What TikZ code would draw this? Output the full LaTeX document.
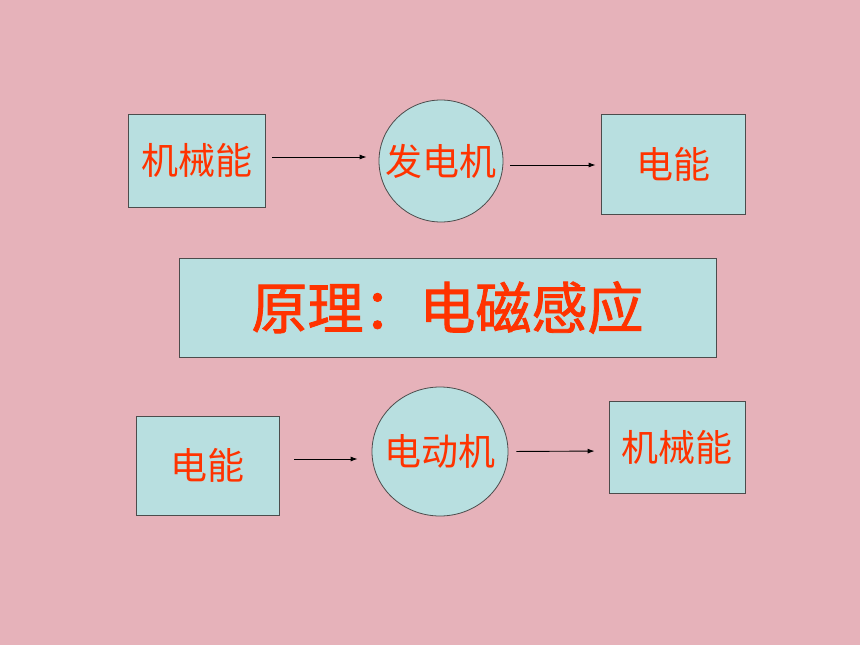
\documentclass[tikz,border=0pt]{standalone}
\usepackage{fontspec}
\newfontfamily\cjk{Noto Sans CJK SC}
\newfontfamily\cjktitle[FakeBold=1.5]{Noto Sans CJK SC}
\usetikzlibrary{shapes.geometric, arrows.meta}
\definecolor{bgpink}{RGB}{230,178,186}
\definecolor{boxcyan}{RGB}{184,223,224}
\definecolor{txtred}{RGB}{255,51,0}
\tikzset{
  cjktext/.style={text=txtred, font=\cjk\fontsize{37}{37}\selectfont},
  energybox/.style={rectangle, draw=black!70, line width=0.8pt, fill=boxcyan,
    inner sep=0pt, cjktext},
  machine/.style={energybox, ellipse, label={[cjktext]center:#1}},
  flow/.style={-{Latex[length=7pt, width=5pt]}, line width=0.9pt}
}
\begin{document}
\begin{tikzpicture}[x=1pt, y=-1pt]
  \fill[bgpink] (0,0) rectangle (860,645);
  \useasboundingbox (0,0) rectangle (860,645);
  % generator
  \node[energybox, minimum width=137pt, minimum height=93pt] (mech1) at (196.5,160.5) {机械能};
  \node[machine=发电机, minimum width=124pt, minimum height=122pt] (gen) at (441,161) {};
  \node[energybox, minimum width=144pt, minimum height=100pt] (elec1) at (673,164) {电能};
  % principle
  \node[energybox, minimum width=537pt, minimum height=99pt,
    font=\cjktitle\fontsize{56}{56}\selectfont] (rule) at (447.5,307.5) {原理：电磁感应};
  % motor
  \node[energybox, minimum width=143pt, minimum height=99pt] (elec2) at (207.5,465.5) {电能};
  \node[machine=电动机, minimum width=136pt, minimum height=129pt] (mot) at (440,451.5) {};
  \node[energybox, minimum width=136pt, minimum height=92pt] (mech2) at (677,447) {机械能};
  \begin{scope}[flow]
    \draw[shorten <=7pt, shorten >=12pt] ([yshift=3.5pt]mech1.east) -- ([yshift=4pt]gen.west);
    \draw[shorten <=7pt, shorten >=5pt] ([yshift=-4pt]gen.east) -- ([yshift=-1pt]elec1.west);
    \draw[shorten <=15pt, shorten >=14pt] ([yshift=6.5pt]elec2.east) -- ([yshift=-7.5pt]mot.west);
    \draw[shorten <=8pt, shorten >=14pt] (mot.east) -- ([yshift=-4pt]mech2.west);
  \end{scope}
\end{tikzpicture}
\end{document}
